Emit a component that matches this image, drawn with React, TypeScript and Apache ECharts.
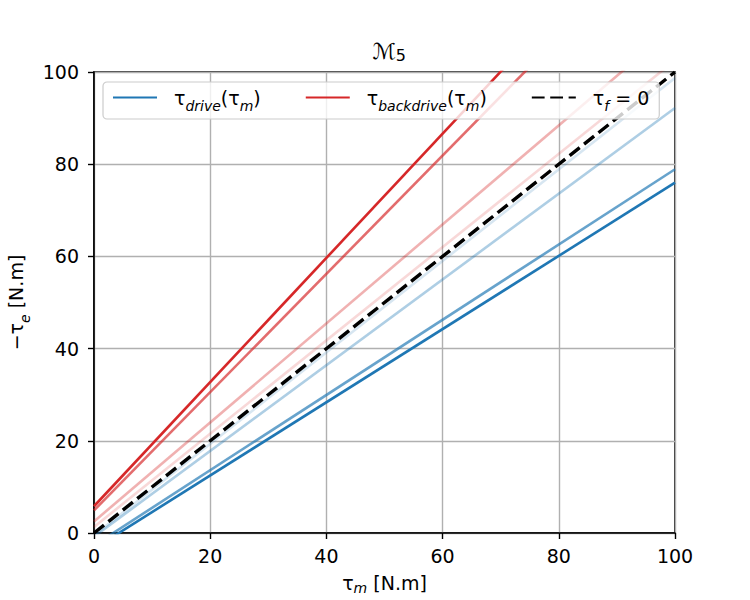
import React, { useEffect, useRef } from "react";
import * as echarts from "echarts";

// x positions at which each line's value is read (ends of the plotted range)
const xEnds = [0, 100];
// drive lines: τe read at x = 0 and x = 100 (darkest first)
const driveDark = [-3.4, 76.0];
const driveMid = [-2.7, 78.9];
const driveLight = [-0.8, 92.2];
const driveFaint = [-0.5, 98.7];
// frictionless reference
const frictionless = [0, 100];
// backdrive lines
const backFaint = [1.3, 102.5];
const backLight = [2.5, 109.9];
const backMid = [4.9, 133.2];
const backDark = [5.8, 140.5];

const xTicks = [0, 20, 40, 60, 80, 100];
const yTicks = [0, 20, 40, 60, 80, 100];

const BLUE = [31, 119, 180];
const RED = [214, 39, 40];
const rgba = (c: number[], a: number) => `rgba(${c[0]},${c[1]},${c[2]},${a})`;

const FONT = "DejaVu Sans";

const pts = (ys: number[]) => xEnds.map((x, i) => [x, ys[i]]);

export default function App() {
  const ref = useRef<HTMLDivElement>(null);
  useEffect(() => {
    if (!ref.current) return;
    const chart = echarts.init(ref.current, undefined, { renderer: "svg" });
    const mkLine = (name: string, data: number[], color: string, width = 2.6, type: any = "solid", z = 2) => ({
      type: "line",
      name,
      data: pts(data),
      symbol: "none",
      showSymbol: false,
      clip: true,
      z,
      lineStyle: { color, width, type },
      itemStyle: { color },
      emphasis: { disabled: true },
    });
    const sub = { fontSize: 14, fontStyle: "italic", fontFamily: FONT, color: "#000", verticalAlign: "bottom", padding: [0, 0, -6, 0] };
    const subX = { fontSize: 14, fontStyle: "italic", fontFamily: FONT, color: "#000", verticalAlign: "bottom", padding: [0, 0, -3, 0] };
    const main = { fontSize: 19, fontFamily: FONT, color: "#000" };
    chart.setOption({
      animation: false,
      title: {
        text: "{m|ℳ}{s|5}",
        left: 384,
        top: 34,
        textAlign: "center",
        textStyle: {
          rich: {
            m: { fontSize: 22, fontFamily: FONT, color: "#000", fontWeight: "normal" },
            s: { fontSize: 16, fontFamily: FONT, color: "#000", fontWeight: "normal", padding: [8, 0, 0, 0] },
          },
        },
      },
      grid: {
        left: 94,
        right: 75,
        top: 72,
        bottom: 67,
        outerBoundsMode: "none",
        containLabel: false,
        show: true,
        borderColor: "#000",
        borderWidth: 1.6,
        backgroundColor: "transparent",
      },
      legend: {
        left: 103,
        top: 82,
        padding: [6, 10, 6, 9],
        itemGap: 44,
        itemWidth: 44,
        itemHeight: 14,
        backgroundColor: "rgba(255,255,255,0.8)",
        borderColor: "#cccccc",
        borderWidth: 1.2,
        borderRadius: 4,
        data: ["drive", "backdrive", "zero"],
        selectedMode: false,
        itemStyle: { opacity: 0 },
        formatter: (n: string) => {
          if (n === "drive") return "{t|τ}{s|drive}{t|(τ}{s|m}{t|)}";
          if (n === "backdrive") return "{t|τ}{s|backdrive}{t|(τ}{s|m}{t|)}";
          return "{t|τ}{s|f}{t| = 0}";
        },
        textStyle: {
          padding: [0, 0, 0, 12],
          rich: { t: main, s: sub },
        },
        z: 10,
      },
      xAxis: {
        type: "value",
        min: 0,
        max: 100,
        interval: 20,
        name: "{t|τ}{s|m}{t| [N.m]}",
        nameLocation: "middle",
        nameGap: 40,
        nameTextStyle: { rich: { t: main, s: subX } },
        axisLine: { show: true, lineStyle: { color: "#000", width: 1.6 } },
        axisTick: { show: true, length: 6, lineStyle: { color: "#000", width: 1.4 } },
        axisLabel: { color: "#000", fontSize: 19, fontFamily: FONT, margin: 13, customValues: xTicks },
        splitLine: { show: true, lineStyle: { color: "#b0b0b0", width: 1.4 } },
      },
      yAxis: {
        type: "value",
        min: 0,
        max: 100,
        interval: 20,
        name: "{t|−τ}{s|e}{t| [N.m]}",
        nameLocation: "middle",
        nameGap: 60,
        nameRotate: 90,
        nameTextStyle: { rich: { t: main, s: sub } },
        axisLine: { show: true, lineStyle: { color: "#000", width: 1.6 } },
        axisTick: { show: true, length: 6, lineStyle: { color: "#000", width: 1.4 } },
        axisLabel: { color: "#000", fontSize: 19, fontFamily: FONT, margin: 15, customValues: yTicks },
        splitLine: { show: true, lineStyle: { color: "#b0b0b0", width: 1.4 } },
      },
      series: [
        mkLine("drive", driveDark, rgba(BLUE, 1)),
        mkLine("drive2", driveMid, rgba(BLUE, 0.68)),
        mkLine("drive3", driveLight, rgba(BLUE, 0.36)),
        mkLine("drive4", driveFaint, rgba(BLUE, 0.18)),
        mkLine("backdrive", backDark, rgba(RED, 1)),
        mkLine("backdrive2", backMid, rgba(RED, 0.68)),
        mkLine("backdrive3", backLight, rgba(RED, 0.36)),
        mkLine("backdrive4", backFaint, rgba(RED, 0.18)),
        mkLine("zero", frictionless, "#000", 3.4, [12.8, 5.6], 5),
      ],
    });
    return () => chart.dispose();
  }, []);
  return <div ref={ref} style={{ position: "fixed", left: 0, top: 0, width: 750, height: 600, background: "#fff" }} />;
}
